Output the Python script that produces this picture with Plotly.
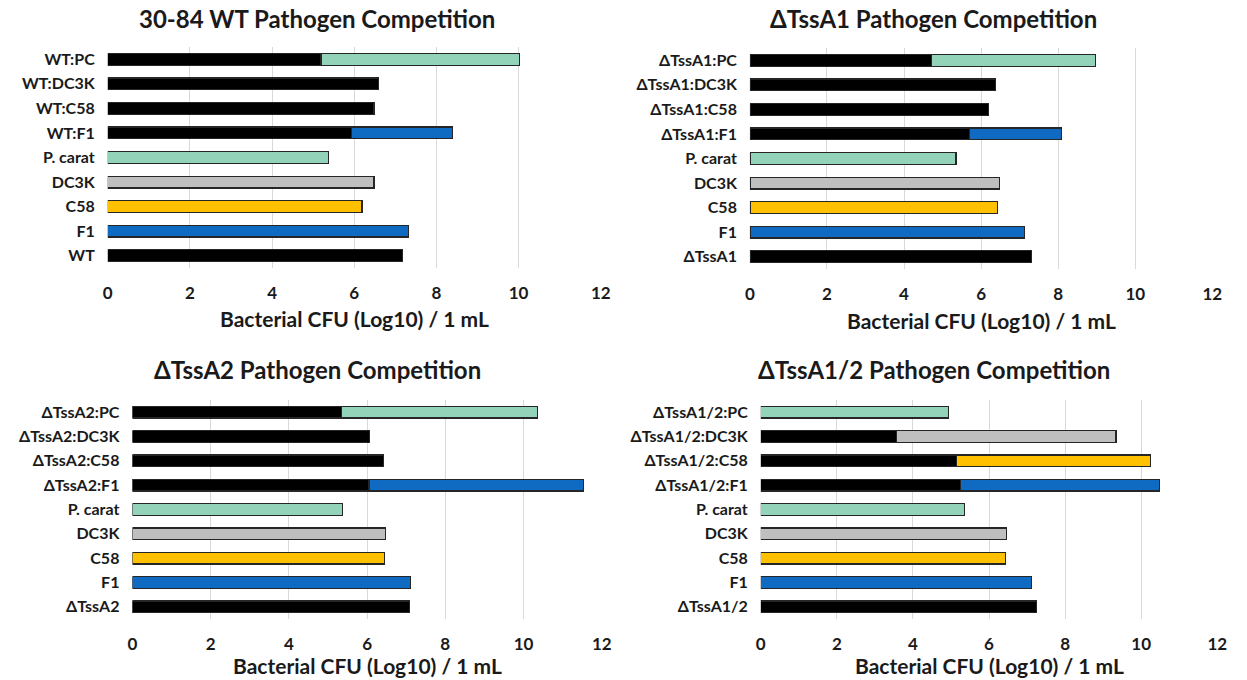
import plotly.graph_objects as go

# ---------------- data (rows listed bottom -> top) ----------------
labels_wt = ["WT", "F1", "C58", "DC3K", "P. carat", "WT:F1", "WT:C58", "WT:DC3K", "WT:PC"]
strain_wt = [7.18, 0, 0, 0, 0, 5.93, 6.48, 6.60, 5.19]
pathogen_wt = [0, 7.33, 6.19, 6.48, 5.37, 2.46, 0, 0, 4.83]

labels_a1 = ["ΔTssA1", "F1", "C58", "DC3K", "P. carat", "ΔTssA1:F1", "ΔTssA1:C58", "ΔTssA1:DC3K", "ΔTssA1:PC"]
strain_a1 = [7.30, 0, 0, 0, 0, 5.70, 6.19, 6.38, 4.71]
pathogen_a1 = [0, 7.12, 6.43, 6.47, 5.35, 2.38, 0, 0, 4.25]

labels_a2 = ["ΔTssA2", "F1", "C58", "DC3K", "P. carat", "ΔTssA2:F1", "ΔTssA2:C58", "ΔTssA2:DC3K", "ΔTssA2:PC"]
strain_a2 = [7.09, 0, 0, 0, 0, 6.05, 6.42, 6.06, 5.35]
pathogen_a2 = [0, 7.12, 6.45, 6.48, 5.37, 5.48, 0, 0, 5.01]

labels_a12 = ["ΔTssA1/2", "F1", "C58", "DC3K", "P. carat", "ΔTssA1/2:F1", "ΔTssA1/2:C58", "ΔTssA1/2:DC3K", "ΔTssA1/2:PC"]
strain_a12 = [7.24, 0, 0, 0, 0, 5.24, 5.15, 3.56, 0]
pathogen_a12 = [0, 7.11, 6.44, 6.47, 5.35, 5.24, 5.10, 5.78, 4.94]

titles = ["30-84 WT Pathogen Competition", "ΔTssA1 Pathogen Competition",
          "ΔTssA2 Pathogen Competition", "ΔTssA1/2 Pathogen Competition"]
x_title = "Bacterial CFU (Log10) / 1 mL"
x_ticks = [0, 2, 4, 6, 8, 10, 12]

# ---------------- styles ----------------
BLACK = "#000000"
BLUE = "#0E6BC1"
YELLOW = "#FFC000"
GREY = "#BFBFBF"
GREEN = "#93D3B9"
pathogen_colors = [BLACK, BLUE, YELLOW, GREY, GREEN, BLUE, YELLOW, GREY, GREEN]
FONT = "Lato"
W, H = 1247, 680

panels = [
    (labels_wt, strain_wt, pathogen_wt, (104, 603), (47, 268), 316, 18, 318),
    (labels_a1, strain_a1, pathogen_a1, (754, 1222), (48, 269), 940, 18, 320),
    (labels_a2, strain_a2, pathogen_a2, (129, 604), (400, 619), 316, 370, 665),
    (labels_a12, strain_a12, pathogen_a12, (765, 1227), (400, 619), 940, 370, 665),
]

fig = go.Figure()
annotations = []
layout_axes = {}

for i, (labels, strain, pathogen, (x0, x1), (y0, y1), tx, ty, axy) in enumerate(panels, start=1):
    xa = "x" if i == 1 else f"x{i}"
    ya = "y" if i == 1 else f"y{i}"
    fig.add_trace(go.Bar(
        y=labels, x=[v if v else None for v in strain], orientation="h",
        marker=dict(color=BLACK, line=dict(color="#262626", width=1.2)),
        xaxis=xa, yaxis=ya, showlegend=False, hoverinfo="x+y"))
    fig.add_trace(go.Bar(
        y=labels, x=[v if v else None for v in pathogen], orientation="h",
        marker=dict(color=pathogen_colors, line=dict(color="#262626", width=1.2)),
        xaxis=xa, yaxis=ya, showlegend=False, hoverinfo="x+y"))

    xkey = "xaxis" if i == 1 else f"xaxis{i}"
    ykey = "yaxis" if i == 1 else f"yaxis{i}"
    layout_axes[xkey] = dict(
        domain=[x0 / W, x1 / W], anchor=ya, range=[0, 12], tickvals=x_ticks,
        showgrid=True, gridcolor="#D9D9D9", gridwidth=1, zeroline=False,
        showline=False, ticks="", ticklen=0, ticklabelstandoff=13,
        tickfont=dict(family=FONT, size=17, color="#1a1a1a", weight="bold"),
        fixedrange=True)
    layout_axes[ykey] = dict(
        domain=[1 - y1 / H, 1 - y0 / H], anchor=xa, type="category",
        categoryorder="array", categoryarray=labels,
        showgrid=False, zeroline=False, showline=False, ticks="",
        ticklabelstandoff=12,
        tickfont=dict(family=FONT, size=16, color="#1a1a1a", weight="bold"),
        fixedrange=True)
    annotations.append(dict(
        text=titles[i - 1], x=tx / W, y=1 - ty / H, xref="paper", yref="paper",
        xanchor="center", yanchor="middle", showarrow=False,
        font=dict(family=FONT, size=24, color="#1a1a1a", weight="bold")))
    annotations.append(dict(
        text=x_title, x=((x0 + x1) / 2) / W, y=1 - axy / H, xref="paper", yref="paper",
        xanchor="center", yanchor="middle", showarrow=False,
        font=dict(family=FONT, size=21, color="#1a1a1a", weight="bold")))

fig.update_layout(
    width=W, height=H, margin=dict(l=0, r=0, t=0, b=0),
    paper_bgcolor="white", plot_bgcolor="white",
    barmode="stack", bargap=0.52,
    annotations=annotations, **layout_axes)

fig.write_html("out.html")
